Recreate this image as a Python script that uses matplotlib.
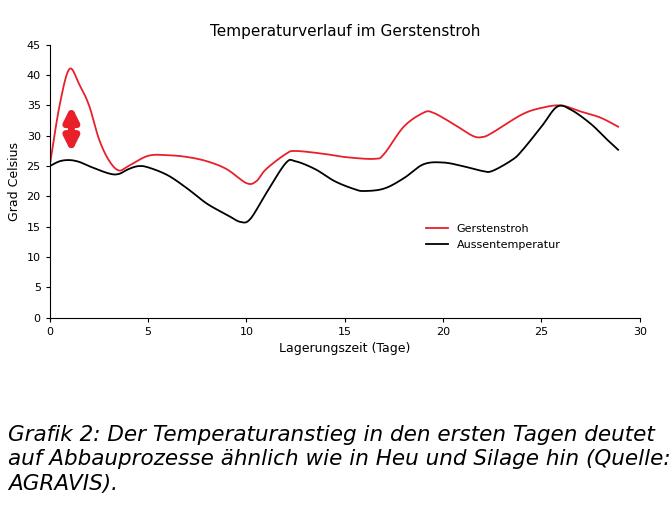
import matplotlib
matplotlib.use("Agg")
import matplotlib.pyplot as plt
import numpy as np

red_x = [0,0.5,1,1.5,2,2.5,3,3.5,4,5,6,7,8,9,10,10.5,11,12,12.5,14,15,16.5,17,18,19,19.5,20.5,21.5,22,22.5,24,25,26,27,28,28.9]
red_y = [25,35,41,38.5,35,29.5,26,24.3,25,26.7,26.8,26.5,25.8,24.5,22.2,22.5,24.5,27,27.5,27,26.5,26.2,27,31.5,33.8,33.8,32,30,29.8,30.5,33.5,34.6,35,34,33,31.5]
blk_x = [0,0.5,1,1.5,2,3,3.5,4,4.5,5,6,7,8,9,9.7,10.2,11,12,12.5,13.5,14.5,15.5,16,17,18,19,20,21,22,22.5,23.5,24,25,25.8,26.5,27.5,28.3,28.9]
blk_y = [25,25.8,26,25.7,25,23.8,23.7,24.5,25,24.8,23.5,21.3,18.8,17,15.8,16.3,20.5,25.5,25.8,24.5,22.5,21.2,20.9,21.3,23,25.3,25.6,25,24.2,24.2,26,27.5,31.5,34.8,34.3,32,29.5,27.7]

def smooth(x, y):
    x = np.asarray(x, float); y = np.asarray(y, float)
    xs, ys = [], []
    for i in range(len(x)-1):
        p0 = i-1 if i > 0 else i
        p3 = i+2 if i+2 < len(x) else i+1
        t = np.linspace(0, 1, 20, endpoint=False)
        for arr, out in ((x, xs), (y, ys)):
            a0, a1, a2, a3 = arr[p0], arr[i], arr[i+1], arr[p3]
            out.extend(0.5*((2*a1) + (-a0+a2)*t + (2*a0-5*a1+4*a2-a3)*t**2 + (-a0+3*a1-3*a2+a3)*t**3))
    xs.append(x[-1]); ys.append(y[-1])
    return xs, ys

fig = plt.figure(figsize=(6.72, 5.21), dpi=100)
ax = fig.add_axes([0.074, 0.39, 0.878, 0.524])
ax.plot(*smooth(red_x, red_y), color="#e8202a", lw=1.3, label="Gerstenstroh")
ax.plot(*smooth(blk_x, blk_y), color="black", lw=1.3, label="Aussentemperatur")
ax.annotate("", xy=(1.1, 26.8), xytext=(1.1, 35.4),
            arrowprops=dict(arrowstyle="<|-|>", color="#e8202a", lw=5, mutation_scale=20))
ax.set_xlim(0, 30); ax.set_ylim(0, 45)
ax.set_xticks(range(0, 31, 5)); ax.set_yticks(range(0, 46, 5))
ax.tick_params(labelsize=8, length=3)
for s in ("top", "right"):
    ax.spines[s].set_visible(False)
ax.set_xlabel("Lagerungszeit (Tage)", fontsize=9)
ax.set_ylabel("Grad Celsius", fontsize=9)
ax.set_title("Temperaturverlauf im Gerstenstroh", fontsize=11)
ax.legend(frameon=False, fontsize=8, loc="upper left", bbox_to_anchor=(0.62, 0.38), handlelength=2)
fig.text(0.012, 0.185, "Grafik 2: Der Temperaturanstieg in den ersten Tagen deutet\nauf Abbauprozesse ähnlich wie in Heu und Silage hin (Quelle:\nAGRAVIS).",
         fontsize=15.5, style="italic", va="top", linespacing=1.3)
fig.savefig("out.png")
